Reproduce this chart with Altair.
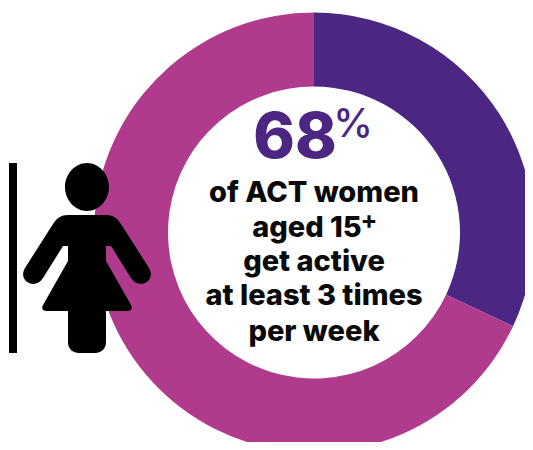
import altair as alt
import pandas as pd

categories = ["Get active 3+ times per week", "Other"]
values = [32, 68]
colors = ["#4B2682", "#B03A8C"]
headline = "68"
percent = "%"
lines = ["of ACT women", "aged 15", "get active", "at least 3 times", "per week"]
FONT = "Inter"
W, H = 517, 434
CX, CY = 306, 224.5


def label(text, x, y, size, weight, color, align="center"):
    return alt.Chart(pd.DataFrame({"t": [text]})).mark_text(
        font=FONT, fontSize=size, fontWeight=weight, color=color, align=align, baseline="alphabetic"
    ).encode(text="t:N", x=alt.value(x), y=alt.value(y))


# icon outline in px around its own centre (size=4 gives 1 unit = 1 px)
FIGURE = (
    "M0,-95 C12,-95 22,-84 22,-71 C22,-58 12,-47 0,-47 C-12,-47 -22,-58 -22,-71 C-22,-84 -12,-95 0,-95 Z "
    "M-19,-43 L19,-43 C26,-43 30,-40 34,-34 L62,10 C66,17 63,23 58,25 C53,27 48,26 44,20 L24,-12 L19,-12 "
    "L19,3 L44,47 C46,51 44,53 40,53 L19,53 L19,84 C19,91 14,95 8,95 L-8,95 C-14,95 -19,91 -19,84 L-19,53 "
    "L-40,53 C-44,53 -46,51 -44,47 L-19,3 L-19,-12 L-24,-12 L-44,20 C-48,26 -53,27 -58,25 C-63,23 -66,17 -62,10 "
    "L-34,-34 C-30,-40 -26,-43 -19,-43 Z"
)

df = pd.DataFrame({"category": categories, "value": values, "order": [0, 1]})

arc = alt.Chart(df).mark_arc(outerRadius=220, innerRadius=146, stroke=None).encode(
    theta=alt.Theta("value:Q", stack=True, scale=alt.Scale(range=[0, 6.28318530718])),
    order=alt.Order("order:Q"),
    color=alt.Color("category:N", scale=alt.Scale(domain=categories, range=colors), legend=None),
    x=alt.value(CX),
    y=alt.value(CY),
)

bar = alt.Chart(pd.DataFrame({"k": [0]})).mark_rule(color="black", strokeWidth=8).encode(
    x=alt.value(5), y=alt.value(155), y2=alt.value(345)
)

figure = alt.Chart(pd.DataFrame({"k": [0]})).mark_point(
    shape=FIGURE, size=4, filled=True, fill="black", opacity=1, strokeWidth=0
).encode(x=alt.value(79), y=alt.value(250))

ink = "#0a0a0a"
text_layers = [
    label(lines[0], CX, 194, 29, 800, ink),
    label(lines[1], 299, 229, 29, 800, ink),
    label(lines[2], CX, 263, 29, 800, ink),
    label(lines[3], CX, 297, 29, 800, ink),
    label(lines[4], CX, 333, 29, 800, ink),
    label(headline, 287, 150, 63, 800, colors[0]),
    label(percent, 345, 129, 40, 500, colors[0]),
    label("+", 361, 221, 25, 700, ink),
]

chart = alt.layer(arc, figure, bar, *text_layers).properties(
    width=W, height=H, padding=0, autosize=alt.AutoSizeParams(type="none"), background="white",
).configure_view(stroke=None)

chart.save("out.html", embed_options={"renderer": "svg", "actions": False})
